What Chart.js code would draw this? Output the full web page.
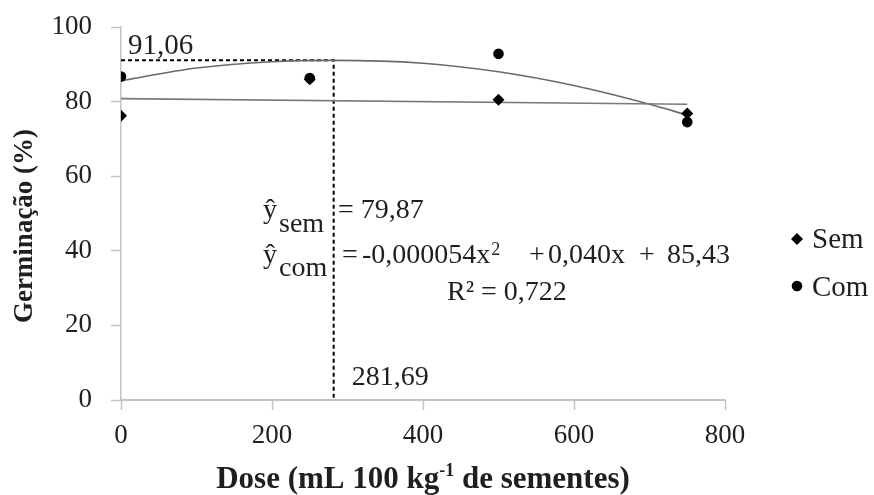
<!DOCTYPE html>
<html lang="pt">
<head>
<meta charset="utf-8">
<title>Germinação x Dose</title>
<script src="https://cdn.jsdelivr.net/npm/chart.js@4.4.1/dist/chart.umd.min.js"></script>
<style>
    html, body { margin: 0; padding: 0; background: #fff; }
    #chart { display: block; }
</style>
</head>
<body>
<canvas id="chart" width="874" height="495"></canvas>
<script>
/**
 * Germinação (%) vs dose - scatter with fitted curves
 */

// Observed means
const doses = [0, 250, 500, 750];
const semValues = [76.2, 86.0, 80.5, 76.8];
const comValues = [86.7, 86.3, 92.8, 74.5];

// Fitted lines
const semFitDoses = [0, 750];
const semFitValues = [80.8, 79.3];
const comFitDoses = [0, 100, 200, 281.69, 400, 500, 600, 700, 750];
const comFitValues = [85.6, 89.0, 90.7, 91.06, 90.3, 88.0, 84.3, 79.3, 76.4];

// Maximum point of the "com" curve
const optDose = 281.69;
const optValue = 91.06;

// Axis ticks
const xTicks = [0, 200, 400, 600, 800];
const yTicks = [0, 20, 40, 60, 80, 100];

const SERIF = '"Liberation Serif", "Times New Roman", serif';
const TEXT = '#1f1f1f';
const AXIS = '#c4c4c4';

function toPoints(xs, ys) {
    return xs.map((x, i) => ({ x: x, y: ys[i] }));
}

/**
 * Draw pieces of text one after the other, returns end x
 */
function drawRun(ctx, parts, x, y) {
    parts.forEach(p => {
        ctx.font = p.f;
        ctx.fillText(p.t, x, y + (p.dy || 0));
        x += ctx.measureText(p.t).width + (p.gap || 0);
    });
    return x;
}

/**
 * Equations, annotations, legend and axis titles
 */
const annotationPlugin = {
    id: 'annotations',
    afterDraw(chart) {
        const ctx = chart.ctx;
        const sx = chart.scales.x;
        const sy = chart.scales.y;
        const f28 = `28px ${SERIF}`;

        ctx.save();
        ctx.fillStyle = TEXT;
        ctx.textBaseline = 'alphabetic';
        ctx.textAlign = 'left';

        // max point labels
        ctx.font = `29px ${SERIF}`;
        ctx.fillText('91,06', sx.getPixelForValue(0) + 7, sy.getPixelForValue(optValue) - 6);
        ctx.font = f28;
        ctx.fillText('281,69', sx.getPixelForValue(optDose) + 18, sy.getPixelForValue(0) - 15);

        // equations
        ctx.font = f28;
        ctx.fillText('ŷ', 263, 218);
        ctx.fillText('sem', 279, 232);
        ctx.fillText('= 79,87', 338, 218);

        ctx.fillText('ŷ', 263, 263);
        ctx.fillText('com', 279, 276);
        ctx.fillText('=', 342, 263);
        drawRun(ctx, [
            { t: '-0,000054x', f: f28, gap: 1 },
            { t: '2', f: `18px ${SERIF}`, dy: -8 }
        ], 362, 263);
        ctx.font = f28;
        ctx.fillText('+', 529, 263);
        ctx.fillText('0,040x', 548, 263);
        ctx.fillText('+', 639, 263);
        ctx.fillText('85,43', 667, 263);

        ctx.fillText('R² = 0,722', 447, 300);

        // legend
        ctx.fillStyle = '#000';
        ctx.beginPath();
        ctx.moveTo(797, 239 - 6);
        ctx.lineTo(797 + 6, 239);
        ctx.lineTo(797, 239 + 6);
        ctx.lineTo(797 - 6, 239);
        ctx.closePath();
        ctx.fill();
        ctx.beginPath();
        ctx.arc(797, 286, 5.3, 0, Math.PI * 2);
        ctx.fill();
        ctx.fillStyle = TEXT;
        ctx.font = `29px ${SERIF}`;
        ctx.fillText('Sem', 812, 248);
        ctx.fillText('Com', 812, 296);

        // y axis title
        ctx.save();
        ctx.translate(25, 226);
        ctx.rotate(-Math.PI / 2);
        ctx.textAlign = 'center';
        ctx.textBaseline = 'middle';
        ctx.font = `bold 27px ${SERIF}`;
        ctx.fillText('Germinação (%)', 0, 0);
        ctx.restore();

        // x axis title with superscript
        const big = `bold 31px ${SERIF}`;
        const small = `bold 18px ${SERIF}`;
        const parts = [
            { t: 'Dose (mL 100 kg', f: big },
            { t: '-1', f: small, dy: -12 },
            { t: ' de sementes)', f: big }
        ];
        let total = 0;
        parts.forEach(p => { ctx.font = p.f; total += ctx.measureText(p.t).width; });
        drawRun(ctx, parts, (sx.left + sx.right) / 2 - total / 2, 488);

        ctx.restore();
    }
};

const ctx = document.getElementById('chart').getContext('2d');

new Chart(ctx, {
    type: 'scatter',
    data: {
        datasets: [
            {
                label: 'Sem',
                data: toPoints(doses, semValues),
                pointStyle: 'rectRot',
                pointRadius: 6,
                backgroundColor: '#000',
                borderColor: '#000',
                borderWidth: 0
            },
            {
                label: 'Com',
                data: toPoints(doses, comValues),
                pointStyle: 'circle',
                pointRadius: 5.3,
                backgroundColor: '#000',
                borderColor: '#000',
                borderWidth: 0
            },
            {
                label: 'Ajuste sem',
                type: 'line',
                data: toPoints(semFitDoses, semFitValues),
                borderColor: '#7a7a7a',
                borderWidth: 1.6,
                pointRadius: 0,
                fill: false
            },
            {
                label: 'Ajuste com',
                type: 'line',
                data: toPoints(comFitDoses, comFitValues),
                borderColor: '#6a6a6a',
                borderWidth: 1.6,
                pointRadius: 0,
                cubicInterpolationMode: 'monotone',
                fill: false
            },
            {
                label: 'Máximo',
                type: 'line',
                data: toPoints([0, optDose, optDose], [optValue, optValue, 0]),
                borderColor: '#000',
                borderWidth: 2,
                borderDash: [4, 3],
                pointRadius: 0,
                fill: false
            }
        ]
    },
    options: {
        responsive: false,
        animation: false,
        layout: {
            padding: { top: 27, right: 149, left: 0, bottom: 0 }
        },
        plugins: {
            legend: { display: false },
            tooltip: { enabled: false }
        },
        scales: {
            x: {
                type: 'linear',
                min: xTicks[0],
                max: xTicks[xTicks.length - 1],
                afterBuildTicks: scale => { scale.ticks = xTicks.map(v => ({ value: v })); },
                afterFit: scale => { scale.height = 95; },
                ticks: {
                    color: TEXT,
                    padding: 10,
                    maxRotation: 0,
                    font: { family: SERIF, size: 27 }
                },
                grid: {
                    drawOnChartArea: false,
                    tickLength: 10,
                    tickColor: AXIS,
                    tickWidth: 1.5
                },
                border: { color: AXIS, width: 2 }
            },
            y: {
                min: yTicks[0],
                max: yTicks[yTicks.length - 1],
                afterBuildTicks: scale => { scale.ticks = yTicks.map(v => ({ value: v })); },
                afterFit: scale => {
                    scale.width = 121;
                    scale.paddingTop = 0;
                    scale.paddingBottom = 0;
                },
                ticks: {
                    color: TEXT,
                    padding: 19,
                    font: { family: SERIF, size: 27 }
                },
                grid: {
                    drawOnChartArea: false,
                    tickLength: 10,
                    tickColor: AXIS,
                    tickWidth: 1.5
                },
                border: { color: AXIS, width: 1.5 }
            }
        }
    },
    plugins: [annotationPlugin]
});
</script>
</body>
</html>
